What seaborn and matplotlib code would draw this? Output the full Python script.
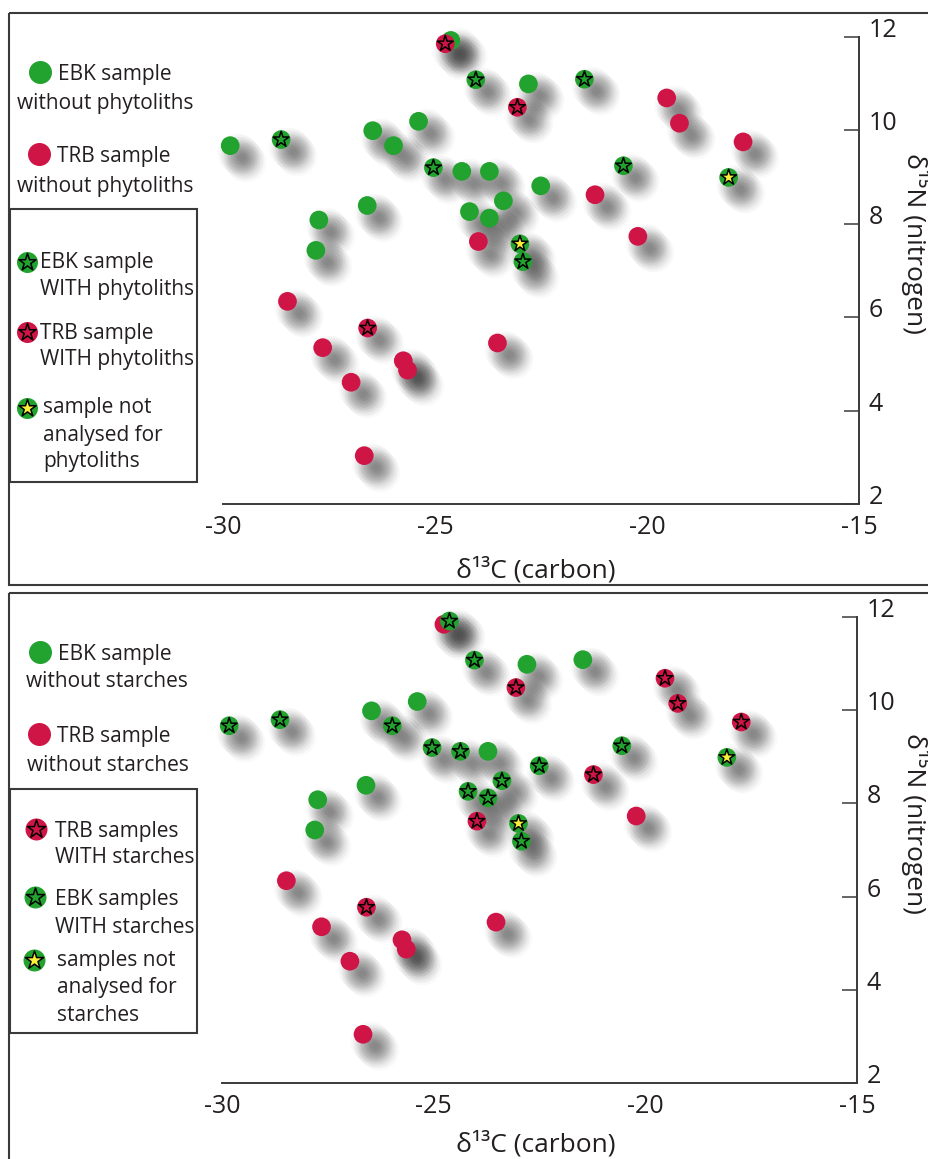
import numpy as np
import pandas as pd
import matplotlib
matplotlib.use("Agg")
import matplotlib.pyplot as plt
import seaborn as sns
from matplotlib.transforms import ScaledTranslation
from matplotlib.patches import Rectangle

sns.set_theme(style="white")
plt.rcParams["font.family"] = ["Open Sans", "DejaVu Sans"]

# ---------------------------------------------------------------- data
# EBK (Ertebølle) samples: d13C, d15N and residue status
ebk_d13c = [-24.63, -24.04, -22.80, -21.48, -25.39, -26.47, -25.98, -29.83,
            -28.63, -25.04, -24.37, -23.72, -22.51, -23.39, -24.19, -23.72,
            -23.00, -22.93, -26.60, -27.74, -27.81, -20.56, -18.08]
ebk_d15n = [11.92, 11.08, 10.99, 11.09, 10.19, 9.99, 9.67, 9.67,
            9.80, 9.20, 9.12, 9.12, 8.81, 8.49, 8.26, 8.12,
            7.57, 7.19, 8.39, 8.08, 7.43, 9.24, 8.99]
ebk_phytoliths = ["without", "with", "without", "with", "without", "without", "without", "without",
                  "with", "with", "without", "without", "without", "without", "without", "without",
                  "n/a", "with", "without", "without", "without", "with", "n/a"]
ebk_starches = ["with", "with", "without", "without", "without", "without", "with", "with",
                "with", "with", "with", "without", "with", "with", "with", "with",
                "n/a", "with", "without", "without", "without", "with", "n/a"]

# TRB (Funnel Beaker) samples
trb_d13c = [-24.76, -23.06, -19.54, -19.24, -17.74, -21.23, -23.98, -20.22,
            -28.48, -26.59, -27.65, -25.75, -25.65, -26.98, -26.67, -23.53]
trb_d15n = [11.85, 10.49, 10.69, 10.15, 9.75, 8.62, 7.62, 7.73,
            6.34, 5.77, 5.35, 5.07, 4.87, 4.61, 3.04, 5.45]
trb_phytoliths = ["with", "with", "without", "without", "without", "without", "without", "without",
                  "without", "with", "without", "without", "without", "without", "without", "without"]
trb_starches = ["without", "with", "with", "with", "with", "with", "with", "without",
                "without", "with", "without", "without", "without", "without", "without", "without"]

x_ticks = [-30, -25, -20, -15]
x_tick_labels = ["-30", "-25", "-20", "-15"]
y_ticks = [2, 4, 6, 8, 10, 12]
y_tick_labels = ["2", "4", "6", "8", "10", "12"]
x_label = "δ¹³C (carbon)"
y_label = "δ¹⁵N (nitrogen)"

df = pd.concat([
    pd.DataFrame({"culture": "EBK", "d13c": ebk_d13c, "d15n": ebk_d15n,
                  "phytoliths": ebk_phytoliths, "starches": ebk_starches}),
    pd.DataFrame({"culture": "TRB", "d13c": trb_d13c, "d15n": trb_d15n,
                  "phytoliths": trb_phytoliths, "starches": trb_starches}),
], ignore_index=True)

# ---------------------------------------------------------------- style
GREEN = "#22a22e"
RED = "#cf1446"
YELLOW = "#f8f03a"
INK = "#231f20"
LINE = "#3a3a3a"
CIRCLE_S = (18.7 * 0.72) ** 2
STAR_S = (16.5 * 0.72) ** 2
culture_pal = {"EBK": GREEN, "TRB": RED}
star_pal = {"EBK": GREEN, "TRB": RED, "n/a": YELLOW}

W, H = 929, 1159
fig = plt.figure(figsize=(W / 100, H / 100), dpi=100)
fig.patch.set_facecolor("white")

# full-figure layer in pixel units for frames and the hand-set keys
lay = fig.add_axes([0, 0, 1, 1], zorder=0)
lay.set_xlim(0, W)
lay.set_ylim(H, 0)
lay.axis("off")


def key(x, y, kind, d=22):
    """Legend key: plain circle or circle carrying a star."""
    base = GREEN if kind in ("EBK", "EBK*", "n/a") else RED
    lay.scatter([x], [y], s=(d * 0.72) ** 2, color=base, linewidths=0, zorder=3)
    if kind.endswith("*") or kind == "n/a":
        fill = YELLOW if kind == "n/a" else base
        lay.scatter([x], [y], s=((d - 3) * 0.72) ** 2, marker="*", color=fill,
                    edgecolors="black", linewidths=1.1, zorder=4)


def label(x, y, txt):
    lay.text(x, y, txt, fontsize=15, color=INK, ha="left", va="baseline")


def panel(rect, column, frame_top, frame_bottom, box, xlab_y, ylab_y):
    # outer frame (runs past the right edge) and the key box
    lay.add_patch(Rectangle((9.5, frame_top), W + 20, frame_bottom - frame_top,
                            fill=False, edgecolor=LINE, linewidth=1.5, zorder=1))
    lay.add_patch(Rectangle((10, box[0]), 187, box[1] - box[0],
                            fill=False, edgecolor=LINE, linewidth=1.5, zorder=1))

    ax = fig.add_axes(rect, zorder=2)
    ax.patch.set_alpha(0)

    # soft drop shadows, offset towards the lower right
    for off in np.linspace(7, 16, 6):
        tr = ax.transData + ScaledTranslation(off / 100, -off / 100, fig.dpi_scale_trans)
        for d in (40, 34, 28, 22, 16, 10):
            ax.scatter(df["d13c"], df["d15n"], s=(d * 0.72) ** 2, color="#262626",
                       alpha=0.02, linewidths=0, transform=tr, zorder=1, clip_on=False)

    plain = df[df[column] == "without"]
    marked = df[df[column] != "without"].copy()
    marked["star"] = np.where(marked[column] == "n/a", "n/a", marked["culture"])

    sns.scatterplot(data=plain, x="d13c", y="d15n", hue="culture", palette=culture_pal,
                    s=CIRCLE_S, linewidth=0, legend=False, ax=ax, zorder=3, clip_on=False)
    sns.scatterplot(data=marked, x="d13c", y="d15n", hue="culture", palette=culture_pal,
                    s=CIRCLE_S, linewidth=0, legend=False, ax=ax, zorder=4, clip_on=False)
    sns.scatterplot(data=marked, x="d13c", y="d15n", hue="star", palette=star_pal,
                    marker="*", s=STAR_S, edgecolor="black", linewidth=1.1,
                    legend=False, ax=ax, zorder=5, clip_on=False)

    ax.set_xlim(x_ticks[0], x_ticks[-1])
    ax.set_ylim(y_ticks[0], y_ticks[-1])
    ax.set_xticks(x_ticks)
    ax.set_xticklabels(x_tick_labels)
    ax.set_yticks(y_ticks)
    ax.set_yticklabels(y_tick_labels)
    ax.yaxis.tick_right()
    for s in ("left", "top"):
        ax.spines[s].set_visible(False)
    for s in ("right", "bottom"):
        ax.spines[s].set_color(LINE)
        ax.spines[s].set_linewidth(1.4)
    ax.tick_params(axis="y", direction="in", length=10.8, width=1.1, color=LINE,
                   pad=6.5, labelsize=18, labelcolor=INK, right=True, left=False)
    ax.tick_params(axis="x", direction="in", length=8, width=1.1, color=LINE,
                   pad=8, labelsize=18, labelcolor=INK)
    for t in ax.get_yticklabels():
        t.set_va("baseline")
    ax.set_xlabel("")
    ax.set_ylabel("")
    ax.grid(False)

    lay.text(536, xlab_y, x_label, fontsize=19, color=INK, ha="center", va="baseline")
    lay.text(907, ylab_y, y_label, fontsize=19, color=INK, rotation=270,
             rotation_mode="anchor", ha="center", va="baseline")
    return ax


# phytoliths panel
panel([223 / W, 1 - 504.3 / H, 636.3 / W, 467.6 / H], "phytoliths",
      12.7, 584.5, (209, 482), 577, 243)
key(40, 72, "EBK", 23)
label(58, 80, "EBK sample")
label(17, 109, "without phytoliths")
key(39, 154, "TRB", 23)
label(57, 162, "TRB sample")
label(17, 192, "without phytoliths")
key(27, 262, "EBK*", 21)
label(40, 268, "EBK sample")
label(40, 295, "WITH phytoliths")
key(27, 332, "TRB*", 21)
label(40, 339, "TRB sample")
label(40, 365, "WITH phytoliths")
key(27, 408, "n/a", 21)
label(43, 413, "sample not")
label(43, 441, "analysed for")
label(43, 467, "phytoliths")

# starches panel
panel([222 / W, 1 - 1082.7 / H, 635.3 / W, 465.4 / H], "starches",
      593.3, H + 20, (789, 1033), 1151, 823)
key(40, 652, "EBK", 23)
label(58, 660, "EBK sample")
label(26, 687, "without starches")
key(39, 734, "TRB", 23)
label(57, 742, "TRB sample")
label(27, 771, "without starches")
key(36, 829, "TRB*", 22)
label(55, 837, "TRB samples")
label(55, 863, "WITH starches")
key(35, 897, "EBK*", 22)
label(55, 905, "EBK samples")
label(55, 933, "WITH starches")
key(34, 960, "n/a", 22)
label(57, 966, "samples not")
label(57, 993, "analysed for")
label(57, 1021, "starches")

fig.savefig("out.png", dpi=100, facecolor="white")
